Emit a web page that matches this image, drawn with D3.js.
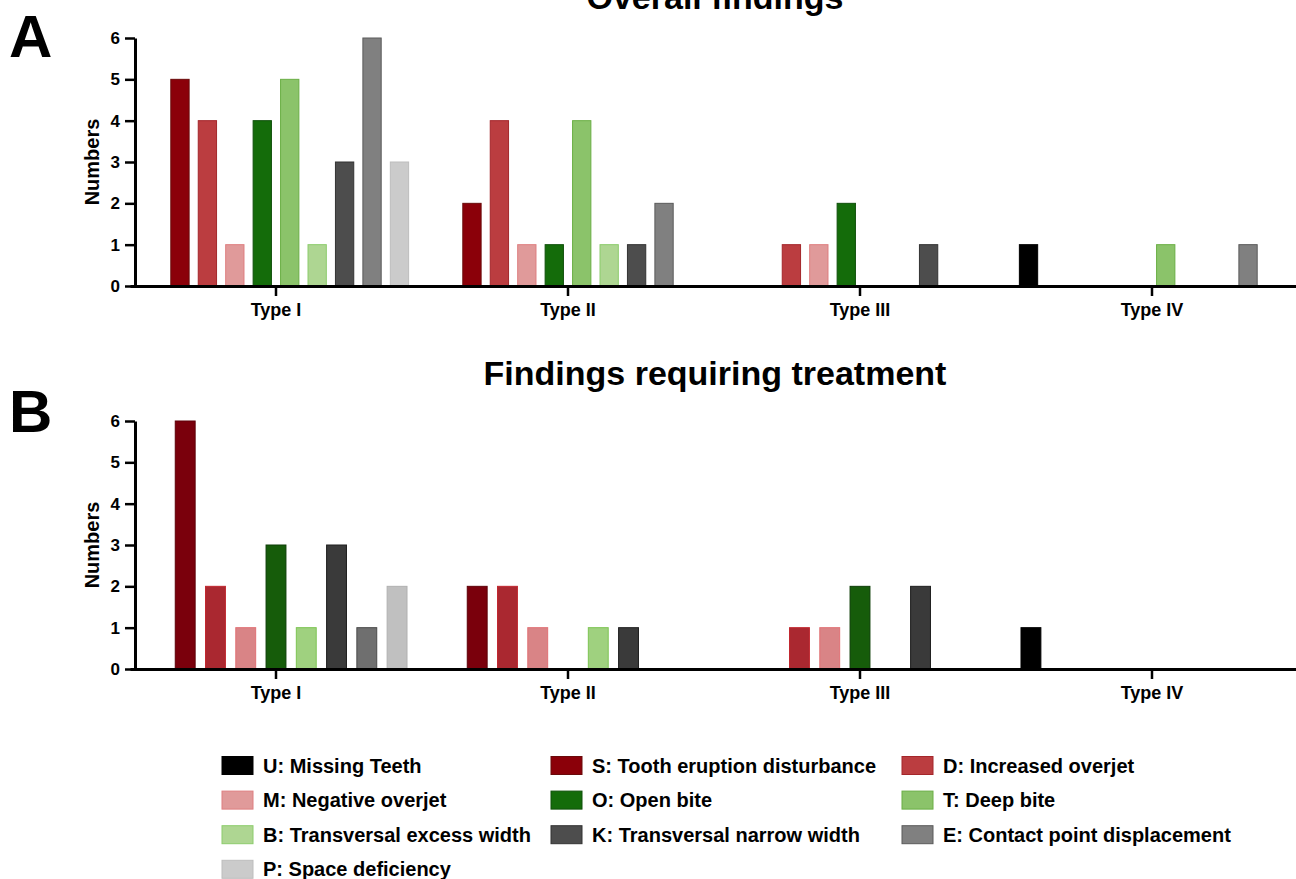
<!DOCTYPE html>
<html>
<head>
<meta charset="utf-8">
<script src="https://cdn.jsdelivr.net/npm/d3@7"></script>
<style>
  body { margin: 0; background: #fff; }
  svg { display: block; font-family: "Liberation Sans", Arial, Helvetica, sans-serif; font-weight: bold; }
</style>
</head>
<body>
<svg id="fig" width="1296" height="879"></svg>
<script>
// ---- data ----
const categories = ["Type I", "Type II", "Type III", "Type IV"];
const yTicks = [0, 1, 2, 3, 4, 5, 6];

const seriesCodes = ["U", "S", "D", "M", "O", "T", "B", "K", "E", "P"];
const seriesNames = [
  "U: Missing Teeth", "S: Tooth eruption disturbance", "D: Increased overjet",
  "M: Negative overjet", "O: Open bite", "T: Deep bite",
  "B: Transversal excess width", "K: Transversal narrow width", "E: Contact point displacement",
  "P: Space deficiency"
];

// Panel A: overall findings per type (order of seriesCodes)
const overallCodes = ["U", "S", "D", "M", "O", "T", "B", "K", "E", "P"];
const overallTypeI   = [0, 5, 4, 1, 4, 5, 1, 3, 6, 3];
const overallTypeII  = [0, 2, 4, 1, 1, 4, 1, 1, 2, 0];
const overallTypeIII = [0, 0, 1, 1, 2, 0, 0, 1, 0, 0];
const overallTypeIV  = [1, 0, 0, 0, 0, 1, 0, 0, 1, 0];

// Panel B: findings requiring treatment per type
const treatmentCodes = ["U", "S", "D", "M", "O", "B", "K", "E", "P"];
const treatmentTypeI   = [0, 6, 2, 1, 3, 1, 3, 1, 2];
const treatmentTypeII  = [0, 2, 2, 1, 0, 1, 1, 0, 0];
const treatmentTypeIII = [0, 0, 1, 1, 2, 0, 2, 0, 0];
const treatmentTypeIV  = [1, 0, 0, 0, 0, 0, 0, 0, 0];

// ---- styles ----
const fillA = { U: "#000000", S: "#8b0009", D: "#bb3d40", M: "#e09a9a", O: "#146c0a",
                T: "#8bc36a", B: "#aed692", K: "#4d4d4d", E: "#808080", P: "#cbcbcb" };
const strokeA = { U: "#000000", S: "#6a0a0a", D: "#a4262a", M: "#de7f80", O: "#0f500a",
                  T: "#6aae45", B: "#8ccc6c", K: "#333333", E: "#5a5a5a", P: "#bdbdbd" };
const fillB = { U: "#000000", S: "#7a000c", D: "#aa2830", M: "#d98486", O: "#165c0a",
                B: "#9fd17f", K: "#3a3a3a", E: "#6f6f6f", P: "#c0c0c0" };
const strokeB = { U: "#000000", S: "#5e0008", D: "#c0262e", M: "#e07074", O: "#0c3d06",
                  B: "#7cc452", K: "#1e1e1e", E: "#4a4a4a", P: "#b0b0b0" };

const svg = d3.select("#fig");

function drawPanel(opts) {
  const { top, bottom, codes, rows, fill, stroke, inset, gap, title, titleY, letter, letterY } = opts;

  const x0 = d3.scaleBand().domain(categories).range([130, 1298]);
  const x1 = d3.scaleBand().domain(codes)
    .range([inset, x0.bandwidth() - inset])
    .paddingInner(gap).paddingOuter(gap / 2);
  const y = d3.scaleLinear().domain([0, 6]).range([bottom, top]);

  const g = svg.append("g");

  // bars
  const groups = g.selectAll("g.cat")
    .data(categories.map((c, i) => ({ cat: c, values: rows[i] })))
    .join("g")
    .attr("class", "cat")
    .attr("transform", d => `translate(${x0(d.cat)},0)`);

  groups.selectAll("rect")
    .data(d => codes.map((k, j) => ({ key: k, value: d.values[j] })).filter(e => e.value > 0))
    .join("rect")
    .attr("x", d => x1(d.key))
    .attr("width", x1.bandwidth())
    .attr("y", d => y(d.value))
    .attr("height", d => y(0) - y(d.value))
    .attr("fill", d => fill[d.key])
    .attr("stroke", d => stroke[d.key])
    .attr("stroke-width", 1);

  // y axis
  const yAxis = g.append("g")
    .attr("transform", "translate(135,0)")
    .call(d3.axisLeft(y).tickValues(yTicks).tickFormat(d3.format("d")).tickSize(10).tickSizeOuter(0).tickPadding(5));
  yAxis.select(".domain").attr("stroke", "#000").attr("stroke-width", 3);
  yAxis.selectAll(".tick line").attr("stroke", "#000").attr("stroke-width", 2.5);
  yAxis.selectAll(".tick text").attr("fill", "#000")
    .style("font-size", "17px").style("font-weight", "bold")
    .style("font-family", "'Liberation Sans', Arial, sans-serif");

  // x axis
  const xAxis = g.append("g")
    .attr("transform", `translate(0,${bottom})`)
    .call(d3.axisBottom(x0).tickSize(10).tickSizeOuter(0).tickPadding(7));
  xAxis.select(".domain").attr("stroke", "#000").attr("stroke-width", 3);
  xAxis.selectAll(".tick line").attr("stroke", "#000").attr("stroke-width", 2.5);
  xAxis.selectAll(".tick text").attr("fill", "#000")
    .style("font-size", "18px").style("font-weight", "bold")
    .style("font-family", "'Liberation Sans', Arial, sans-serif");

  // axis title
  g.append("text")
    .attr("transform", `translate(99,${(top + bottom) / 2}) rotate(-90)`)
    .attr("text-anchor", "middle")
    .style("font-size", "20px")
    .text("Numbers");

  // panel title
  g.append("text")
    .attr("x", 715).attr("y", titleY)
    .attr("text-anchor", "middle")
    .style("font-size", "34px")
    .text(title);

  // panel letter
  g.append("text")
    .attr("x", 9).attr("y", letterY)
    .style("font-size", "60px")
    .text(letter);
}

drawPanel({
  top: 38, bottom: 286,
  codes: overallCodes,
  rows: [overallTypeI, overallTypeII, overallTypeIII, overallTypeIV],
  fill: fillA, stroke: strokeA,
  inset: 8.8, gap: 0.333,
  title: "Overall findings", titleY: 9,
  letter: "A", letterY: 57
});

drawPanel({
  top: 421, bottom: 669,
  codes: treatmentCodes,
  rows: [treatmentTypeI, treatmentTypeII, treatmentTypeIII, treatmentTypeIV],
  fill: fillB, stroke: strokeB,
  inset: 9.8, gap: 0.343,
  title: "Findings requiring treatment", titleY: 385,
  letter: "B", letterY: 432
});

// ---- legend ----
const legendCols = [222, 551, 902];
const legend = svg.append("g");
const items = legend.selectAll("g")
  .data(seriesCodes.map((k, i) => ({ key: k, name: seriesNames[i], i })))
  .join("g")
  .attr("transform", d => `translate(${legendCols[d.i % 3]},${765.5 + Math.floor(d.i / 3) * 34.6})`);
items.append("rect")
  .attr("x", 0).attr("y", -9).attr("width", 31).attr("height", 18)
  .attr("fill", d => fillA[d.key])
  .attr("stroke", d => strokeA[d.key]).attr("stroke-width", 1);
items.append("text")
  .attr("x", 41).attr("y", 7)
  .style("font-size", "20px")
  .text(d => d.name);
</script>
</body>
</html>
